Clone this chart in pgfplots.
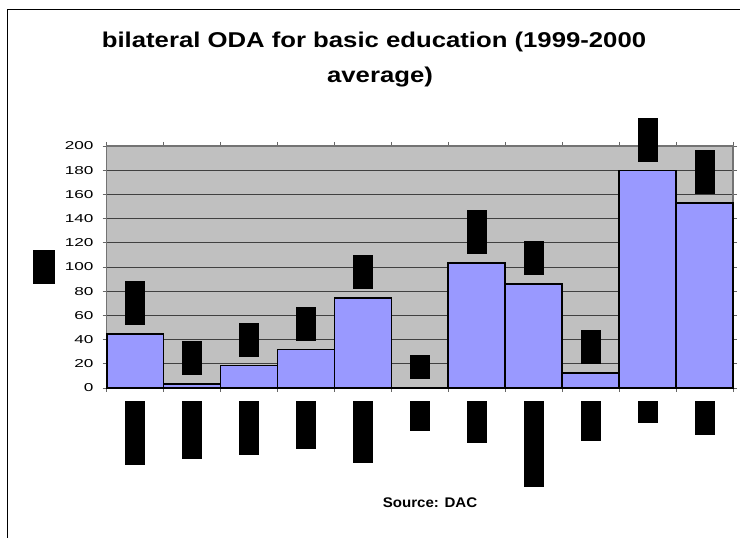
\documentclass[border=0pt]{standalone}
\usepackage{fontspec}
\setmainfont{Liberation Sans}
\newfontfamily\titlefont[FakeStretch=1.2]{Liberation Sans}
\newfontfamily\tickfont[FakeStretch=1.5]{Liberation Sans}
\newfontfamily\srcfont[FakeStretch=1.08]{Liberation Sans}
\usepackage{pgfplots}
\usepackage{pgfplotstable}
\pgfplotsset{compat=1.18}
\definecolor{barfill}{HTML}{9999FF}
\definecolor{plotbg}{HTML}{C0C0C0}
\pgfplotstableread{
x y h
1 44.5 44
2 3.3 34
3 18.7 34
4 31.8 34
5 74.3 34
6 0 24
7 103.4 44
8 85.9 34
9 12.6 34
10 179.7 44
11 153.1 44
}\datatable
\begin{document}
\begin{tikzpicture}
\useasboundingbox (0,0) rectangle (740bp,538bp);
\draw[black, line width=1bp] (7bp,-5bp) -- (7bp,528bp) -- (760bp,528bp);
\begin{axis}[
  at={(106.7bp,150bp)}, anchor=south west,
  scale only axis, width=626.3bp, height=242bp,
  xmin=0.5, xmax=11.5, ymin=0, ymax=200,
  clip=false,
  /pgf/number format/assume math mode=true,
  axis background/.style={fill=plotbg},
  axis line style={draw=black!55, line width=1.2pt},
  ytick={0,20,...,200},
  ymajorgrids,
  grid style={draw=black!75, line width=0.8pt},
  xtick={1,...,11},
  xticklabels={\rule{20bp}{64bp},\rule{20bp}{58bp},\rule{20bp}{54bp},\rule{20bp}{48bp},\rule{20bp}{62bp},\rule{20bp}{30bp},\rule{20bp}{42bp},\rule{20bp}{86bp},\rule{20bp}{40bp},\rule{20bp}{22bp},\rule{20bp}{34bp}},
  major x tick style={draw=none},
  minor xtick={0.5,1.5,...,11.5},
  tick align=outside,
  major tick length=4bp, minor tick length=4bp,
  tick style={draw=black!60, line width=0.8pt},
  yticklabel style={font=\tickfont\fontsize{11.5}{12}\selectfont, inner sep=0pt, xshift=-9bp},
  xticklabel style={anchor=north, inner sep=0pt, yshift=-9bp},
  ylabel={\rule{22bp}{34bp}},
  ylabel style={rotate=-90, inner sep=0pt},
  every axis y label/.style={at={(axis description cs:-0.1,0.5)}, anchor=center},
]
\addplot[ybar, bar width=1, bar shift=0pt, fill=barfill, draw=black, line width=1.7pt,
  point meta=explicit symbolic,
  nodes near coords={\rule{20bp}{\pgfplotspointmeta bp}},
  every node near coord/.append style={anchor=south, inner sep=0pt, yshift=8bp}]
  table[x=x, y=y, meta=h] {\datatable};
\end{axis}
\node[anchor=base, font=\titlefont\bfseries\fontsize{21.5}{24}\selectfont] at (374bp,490bp) {bilateral ODA for basic education (1999-2000};
\node[anchor=base, font=\titlefont\bfseries\fontsize{21.5}{24}\selectfont] at (380bp,455bp) {average)};
\node[anchor=base, font=\srcfont\bfseries\fontsize{14}{15}\selectfont] at (430bp,31bp) {Source: DAC};
\end{tikzpicture}
\end{document}
